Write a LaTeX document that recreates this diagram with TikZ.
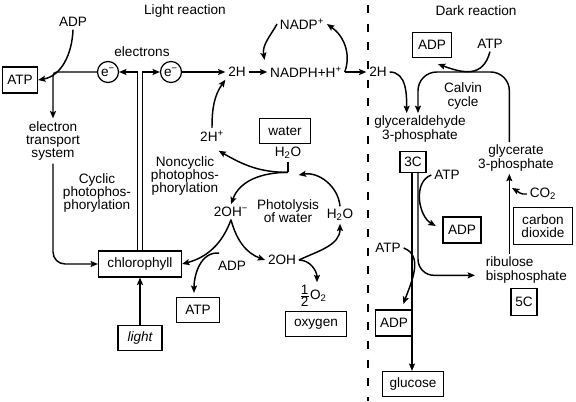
\documentclass[tikz,border=0pt]{standalone}
\usepackage{fontspec}
\setmainfont{Liberation Sans}
\usetikzlibrary{arrows.meta}

\begin{document}
\begin{tikzpicture}[x=0.75pt,y=0.75pt,
  every node/.style={font=\fontsize{10.2}{10}\selectfont},
  txt/.style={inner sep=2pt,align=center},
  box/.style={draw,line width=0.9pt,inner sep=1pt,minimum height=18.75pt},
  elec/.style={circle,draw,line width=0.9pt,inner sep=0pt,minimum size=15.75pt},
  arr/.style={line width=1.1pt,-{Stealth[length=5.5pt,width=4.5pt,inset=1pt]}},
  ln/.style={line width=1.1pt}]
\useasboundingbox (0,0) rectangle (576,401);

\node[txt] (lighttitle) at (185,390) {Light reaction};
\node[txt] (darktitle) at (476,390) {Dark reaction};
\draw[line width=1.2pt,dash pattern=on 6pt off 8pt] (368,396) -- (368,0);

\node[txt] (adpA) at (73,379) {ADP};
\node[box,minimum width=26.25pt,minimum height=19.5pt] (atpA) at (20,321) {ATP};
\node[elec] (eL) at (108,329) {e\textsuperscript{−}};
\node[elec] (eR) at (171,329) {e\textsuperscript{−}};
\node[txt] (electrons) at (142,349) {electrons};
\node[txt] (twoHa) at (237,329) {2H};
\node[txt] (nadph) at (306,329) {NADPH+H\textsuperscript{+}};
\node[txt] (nadp) at (302,377) {NADP\textsuperscript{+}};
\node[txt] (twoHb) at (378,329) {2H};
\node[txt] (ets) at (53,260) {electron\\transport\\system};
\node[txt] (cyclic) at (97,208) {Cyclic\\photophos-\\phorylation};
\node[txt] (noncyc) at (185,225) {Noncyclic\\photophos-\\phorylation};
\node[box,minimum width=62.25pt,minimum height=19.5pt] (chl) at (140,137) {chlorophyll};
\node[box,minimum width=33pt] (light) at (140,63) {\itshape light};
\node[txt] (twoHp) at (212,265) {2H\textsuperscript{+}};
\node[box,minimum width=38.25pt] (water) at (285,270) {water};
\node[txt] (h2oA) at (288,248) {H\textsubscript{2}O};
\node[txt] (twoOHm) at (231,189) {2OH\textsuperscript{−}};
\node[txt] (photo) at (288,190) {Photolysis\\of water};
\node[txt] (h2oB) at (340,186) {H\textsubscript{2}O};
\node[txt] (twoOH) at (282,141) {2OH};
\node[txt] (adpB) at (232,135) {ADP};
\node[box,minimum width=32.25pt] (atpB) at (198,91) {ATP};
\node[txt] (halfO) at (313,105) {$\frac{\mbox{1}}{\mbox{2}}$O\textsubscript{2}};
\node[box,minimum width=45.75pt] (oxygen) at (316,77) {oxygen};

\node[box,minimum width=29.25pt] (adpC) at (432,356) {ADP};
\node[txt] (atpC) at (490,357) {ATP};
\node[txt] (calvin) at (463,305) {Calvin\\cycle};
\node[txt] (g3p) at (420,272) {glyceraldehyde\\3-phosphate};
\node[box,minimum width=19.5pt,minimum height=15.75pt] (threeC) at (413,239) {3C};
\node[txt] (atpD) at (447,226) {ATP};
\node[box,minimum width=28.5pt,minimum height=19.5pt] (adpD) at (462,171) {ADP};
\node[txt] (atpE) at (388,153) {ATP};
\node[box,minimum width=27.75pt,minimum height=19.5pt] (adpE) at (394,78) {ADP};
\node[box,minimum width=45.75pt] (glucose) at (413,17) {glucose};
\node[txt] (glyc) at (516,243) {glycerate\\3-phosphate};
\node[txt] (co2) at (543,207) {CO\textsubscript{2}};
\node[box,align=center,minimum width=44.25pt,minimum height=27.75pt] (cdiox) at (543,175) {carbon\\dioxide};
\node[txt,anchor=west,align=left] (rubp) at (483,131) {ribulose\\bisphosphate};
\node[box,minimum width=19.5pt,minimum height=20.25pt] (fiveC) at (524,99) {5C};

\coordinate (gtop) at ([xshift=-5pt]glyc.north);
\coordinate (gbot) at ([xshift=-5pt]glyc.south);
\coordinate (ctop) at (463,329);
\coordinate (cotip) at (512,213);
\coordinate (hsplit) at ([yshift=-8pt]h2oA.south);

\draw[arr] (adpA.south) to[out=-92,in=10] (atpA.east);
\draw[arr,rounded corners=3pt] (eL.west) -| (ets.north);
\draw[arr,rounded corners=9pt] (ets.south) |- (chl.west);
\draw[arr] ([xshift=-1.9pt]chl.north) |- (eL.east);
\draw[arr] ([xshift=1.9pt]chl.north) |- (eR.west);
\draw[arr] (light.north) -- (chl.south);
\draw[arr] (eR.east) -- (twoHa.west);
\draw[arr] (twoHa.east) -- (nadph.west);
\draw[arr] (nadp.west) to[out=240,in=100] ([xshift=-2pt,yshift=3pt]nadph.north west);
\draw[arr] (nadph.east) to[out=70,in=-35] (nadp.east);
\draw[arr] (nadph.east) -- (twoHb.west);
\draw[arr] (twoHp.north) to[out=90,in=235] (twoHa.south west);

\draw[ln] (h2oA.south) -- (hsplit);
\draw[arr] (hsplit) to[out=180,in=-30] ([xshift=5pt,yshift=-5pt]twoHp.south);
\draw[arr] (hsplit) to[out=180,in=70] (twoOHm.north);
\draw[arr] (h2oB.north) to[out=95,in=10] ([xshift=8pt,yshift=-2pt]hsplit);
\draw[arr] (twoOH.east) to[out=25,in=-90] (h2oB.south);
\draw[arr] (twoOHm.south) to[out=-75,in=160] (twoOH.west);
\draw[arr] (twoOHm.south) to[out=-110,in=15] (chl.east);
\draw[arr] ([xshift=3pt,yshift=4pt]adpB.north west) to[out=175,in=90] ([xshift=-3pt,yshift=3pt]atpB.north);
\draw[arr] (twoOH.east) to[out=0,in=90] ([xshift=3pt]halfO.north);

\draw[arr] (twoHb.east) to[out=0,in=90] ([xshift=-10pt]g3p.north);
\draw[arr,rounded corners=14pt] (gtop) |- (ctop) -| ([xshift=-1.5pt]g3p.north);
\draw[arr] (atpC.south) to[out=-105,in=-20,looseness=1.3] ([xshift=4.5pt,yshift=-4.5pt]adpC.south);
\draw[arr] ([xshift=-0.75pt]threeC.south) -- ([xshift=-0.75pt]glucose.north);
\draw[arr,rounded corners=12pt] ([xshift=3.75pt]threeC.south) |- ([xshift=-6pt,yshift=-4pt]rubp.west);
\draw[arr] (atpD.west) to[out=200,in=150] ([xshift=-5pt,yshift=3pt]adpD.west);
\draw[arr] (atpE.east) to[out=-20,in=70] ([xshift=7pt,yshift=4pt]adpE.north);
\draw[arr] (rubp.north -| gbot) -- (gbot);
\draw[arr] (co2.west) to[out=190,in=-30] (cotip);
\end{tikzpicture}
\end{document}
